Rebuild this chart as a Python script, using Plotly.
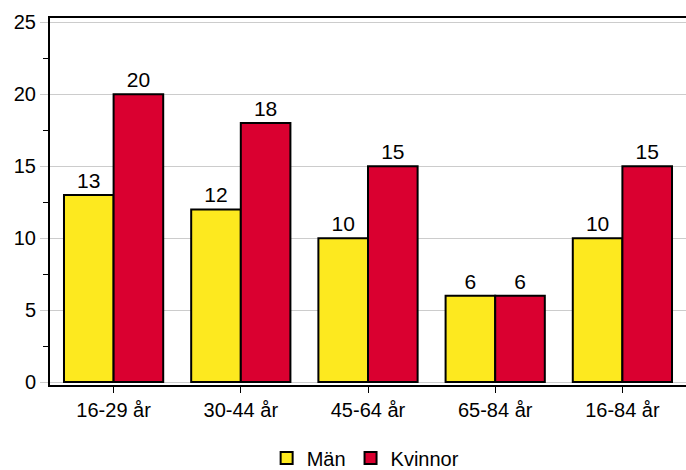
import plotly.graph_objects as go

categories = ["16-29 år", "30-44 år", "45-64 år", "65-84 år", "16-84 år"]
man = [13, 12, 10, 6, 10]
kvinnor = [20, 18, 15, 6, 15]

font = "Liberation Sans, Arial, sans-serif"

fig = go.Figure()
fig.add_trace(go.Bar(name="Män", x=categories, y=man, text=man, textposition="outside",
                     marker=dict(color="#FDE91F", line=dict(color="black", width=2)),
                     textfont=dict(size=21, color="black"), cliponaxis=False))
fig.add_trace(go.Bar(name="Kvinnor", x=categories, y=kvinnor, text=kvinnor, textposition="outside",
                     marker=dict(color="#DA0030", line=dict(color="black", width=2)),
                     textfont=dict(size=21, color="black"), cliponaxis=False))

fig.update_layout(
    width=686, height=470,
    margin=dict(l=50, r=0, t=18, b=85, autoexpand=False),
    barmode="group", bargap=0.22, bargroupgap=0,
    plot_bgcolor="white", paper_bgcolor="white",
    font=dict(family=font, size=20, color="black"),
    legend=dict(orientation="h", x=0.533, xanchor="center", xref="container",
                y=(470 - 458) / 470, yanchor="middle", yref="container",
                font=dict(size=20), itemwidth=30),
    showlegend=True,
)
fig.update_xaxes(showline=True, linecolor="black", linewidth=2, mirror=True,
                 ticks="outside", ticklen=6, tickcolor="black", tickwidth=1,
                 showgrid=False, automargin=False)
fig.update_yaxes(range=[-0.2, 25.3], tickvals=[0, 5, 10, 15, 20, 25],
                 showline=True, linecolor="black", linewidth=2,
                 showgrid=True, gridcolor="#cccccc", gridwidth=1, zeroline=False,
                 ticks="outside", ticklen=8, tickcolor="#cccccc", automargin=False,
                 minor=dict(tickvals=[2.5, 7.5, 12.5, 17.5, 22.5], ticks="outside", ticklen=5,
                            tickcolor="black", showgrid=False))
fig.write_html("out.html", config={"displayModeBar": False},
               post_script="document.body.style.margin='0px';document.body.style.overflow='hidden';")
